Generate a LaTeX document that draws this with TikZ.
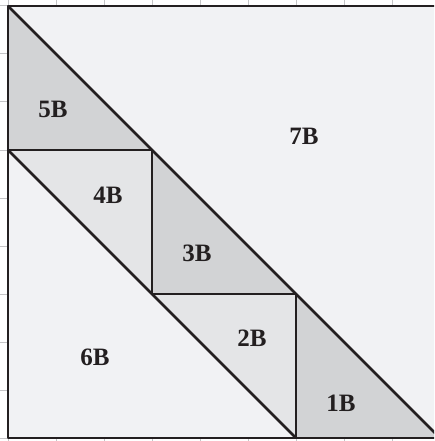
\documentclass[tikz,border=0pt]{standalone}
\usepackage{fontspec}
\setmainfont{Liberation Serif}
\definecolor{lightbg}{HTML}{F1F2F4}
\definecolor{midgray}{HTML}{E4E5E7}
\definecolor{darkgray}{HTML}{D2D3D5}
\definecolor{gridgray}{HTML}{C4C4C6}
\definecolor{ink}{HTML}{231F20}
\tikzset{
  piece/.style={draw=ink, line width=2.8pt, line join=round},
  lbl/.style={font=\fontsize{25}{30}\selectfont\bfseries, text=ink, inner sep=0pt},
  gridline/.style={draw=gridgray, line width=1pt}
}
\begin{document}
\begin{tikzpicture}[x=1pt,y=-1pt]
\useasboundingbox (0,0) rectangle (434,441);
\begin{scope}
\clip (0,0) rectangle (434,441);
% background grid
\foreach \k in {0,...,9} {
  \draw[gridline] ({8+48*\k},0) -- ({8+48*\k},441);
  \draw[gridline] (0,{6+48*\k}) -- (434,{6+48*\k});
}
% corner coordinates
\coordinate (A) at (8,6);
\coordinate (B) at (440,6);
\coordinate (C) at (440,438);
\coordinate (D) at (8,438);
\coordinate (P1) at (8,150);
\coordinate (P2) at (152,150);
\coordinate (P3) at (152,294);
\coordinate (P4) at (296,294);
\coordinate (P5) at (296,438);
% big square
\fill[lightbg] (A) rectangle (C);
% pieces
\fill[darkgray] (A) -- (P1) -- (P2) -- cycle;
\fill[midgray] (P1) -- (P2) -- (P3) -- cycle;
\fill[darkgray] (P2) -- (P3) -- (P4) -- cycle;
\fill[midgray] (P3) -- (P4) -- (P5) -- cycle;
\fill[darkgray] (P4) -- (P5) -- (C) -- cycle;
% lines
\draw[piece] (A) -- (C);
\draw[piece] (P1) -- (P5);
\draw[piece] (P1) -- (P2) -- (P3) -- (P4) -- (P5);
\draw[piece] (B) -- (A) -- (D) -- (C) -- cycle;
\end{scope}
% labels
\node[lbl] (l5) at (53,109) {5B};
\node[lbl] (l4) at (108,195) {4B};
\node[lbl] (l3) at (197,253) {3B};
\node[lbl] (l2) at (252,338) {2B};
\node[lbl] (l1) at (341,403) {1B};
\node[lbl] (l6) at (95,357) {6B};
\node[lbl] (l7) at (304,136) {7B};
\end{tikzpicture}
\end{document}
